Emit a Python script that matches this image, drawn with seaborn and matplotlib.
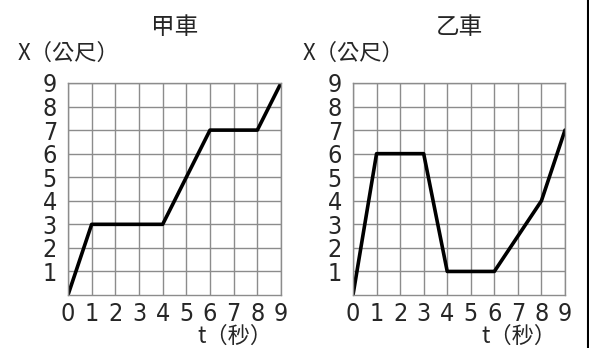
import matplotlib as mpl
mpl.use("Agg")
import matplotlib.pyplot as plt
import pandas as pd
import seaborn as sns
from matplotlib.lines import Line2D

# data
t_jia = [0, 1, 4, 6, 8, 9]
x_jia = [0, 3, 3, 7, 7, 9]
t_yi = [0, 1, 3, 4, 6, 8, 9]
x_yi = [0, 6, 6, 1, 1, 4, 7]
ticks = list(range(10))
titles = ["甲車", "乙車"]

sns.set_style("white")
plt.rcParams['font.family'] = ['Noto Sans CJK TC', 'DejaVu Sans']

W, H = 589, 348
fig = plt.figure(figsize=(W / 100, H / 100), dpi=100)

num_font = dict(family='DejaVu Sans', stretch='condensed', size=18)

# axes boxes in pixels: left, bottom(from top), width, height
boxes = [(68, 295, 213, 212), (353, 295, 212, 212)]
series = [(t_jia, x_jia), (t_yi, x_yi)]

for (lx, by, w, h), (tt, xx), title in zip(boxes, series, titles):
    ax = fig.add_axes([lx / W, (H - by) / H, w / W, h / H])
    df = pd.DataFrame({'t': tt, 'x': xx})
    sns.lineplot(data=df, x='t', y='x', sort=False, color='black', lw=2.6, ax=ax)
    ax.set_xlim(0, 9)
    ax.set_ylim(0, 9)
    ax.set_xticks(ticks)
    ax.set_yticks(ticks[1:])
    ax.set_xticklabels([str(v) for v in ticks], **num_font)
    ax.set_yticklabels([str(v) for v in ticks[1:]], **num_font)
    ax.tick_params(length=0)
    ax.tick_params(axis='x', pad=5)
    ax.tick_params(axis='y', pad=8)
    ax.grid(True, color='#8c8c8c', lw=1)
    for s in ax.spines.values():
        s.set_color('#8c8c8c')
        s.set_linewidth(1)
    ax.set_xlabel('')
    ax.set_ylabel('')
    ax.set_axisbelow(True)
    # title and axis labels
    cx = (lx + w / 2) / W
    fig.text(cx, 1 - 27 / H, title, ha='center', va='center', fontsize=17)
    fig.text((lx - 50) / W, 1 - 53 / H, 'X（公尺）', ha='left', va='center', fontsize=16)
    fig.text((lx + w - 9) / W, 1 - 336 / H, 't（秒）', ha='right', va='center', fontsize=16)

# thin border on the right edge of the picture
fig.add_artist(Line2D([587.5 / W, 587.5 / W], [0, 1], color='black', lw=1.5))

fig.savefig('out.png', dpi=100)
